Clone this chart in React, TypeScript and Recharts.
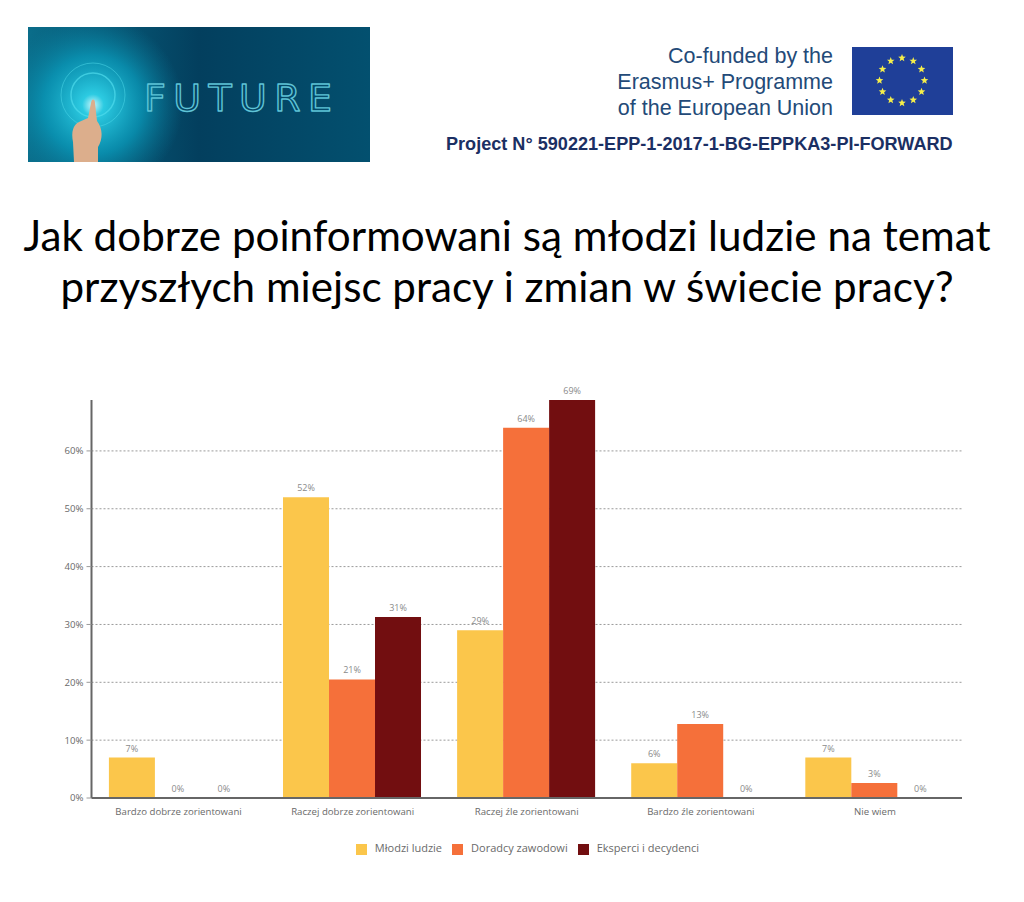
import { BarChart, Bar, XAxis, YAxis, CartesianGrid, Legend, LabelList } from "recharts";

const CATEGORIES = [
  "Bardzo dobrze zorientowani",
  "Raczej dobrze zorientowani",
  "Raczej źle zorientowani",
  "Bardzo źle zorientowani",
  "Nie wiem",
];
const MLODZI = [7, 52, 29, 6, 7];
const DORADCY = [0, 20.5, 64, 12.8, 2.6];
const EKSPERCI = [0, 31.3, 68.8, 0, 0];
const Y_TICKS = [0, 10, 20, 30, 40, 50, 60];

const TITLE_LINES = [
  "Jak dobrze poinformowani są młodzi ludzie na temat",
  "przyszłych miejsc pracy i zmian w świecie pracy?",
];
const COFUNDED_LINES = ["Co-funded by the", "Erasmus+ Programme", "of the European Union"];
const PROJECT_LINE = "Project N° 590221-EPP-1-2017-1-BG-EPPKA3-PI-FORWARD";

const data = CATEGORIES.map((name, i) => ({
  name,
  mlodzi: MLODZI[i],
  doradcy: DORADCY[i],
  eksperci: EKSPERCI[i],
}));

const TEXT_GREY = "#6a6a6a";
const AXIS_GREY = "#666666";
const CHART_FONT = "'Open Sans', sans-serif";
const percent = (v: unknown) => `${Math.round(Number(v))}%`;
const LABEL_STYLE = { fontSize: 9, fill: "#8a8a8a", fontFamily: CHART_FONT };

function FutureLogo() {
  return (
    <svg width={342} height={135} style={{ position: "absolute", left: 28, top: 27 }}>
      <defs>
        <linearGradient id="bg" x1="0" y1="0" x2="1" y2="0">
          <stop offset="0" stopColor="#0a6d8a" />
          <stop offset="0.5" stopColor="#033f5e" />
          <stop offset="1" stopColor="#03506f" />
        </linearGradient>
        <radialGradient id="glow" cx="65" cy="78" r="90" gradientUnits="userSpaceOnUse">
          <stop offset="0" stopColor="#c9f6fb" />
          <stop offset="0.12" stopColor="#2ccbe2" />
          <stop offset="0.55" stopColor="#0a9cbc" stopOpacity="0.75" />
          <stop offset="1" stopColor="#0a7d9c" stopOpacity="0" />
        </radialGradient>
      </defs>
      <rect width={342} height={135} fill="url(#bg)" />
      <rect width={342} height={135} fill="url(#glow)" />
      <circle cx={65} cy={68} r={22} fill="none" stroke="#4fdcec" strokeWidth={1.5} opacity={0.7} />
      <circle cx={65} cy={68} r={32} fill="none" stroke="#4fdcec" strokeWidth={1} opacity={0.5} />
      <path
        d="M46 135 L45 115 C43 105 45 98 51 95 L60 91 L63 76 C64 71 67 72 67 76 L69 94 C75 102 75 112 70 120 L70 135 Z"
        fill="#dcae8c"
      />
      <text
        x={116}
        y={84}
        textLength={188}
        fontSize={38}
        fontFamily="'DejaVu Sans', sans-serif"
        fill="none"
        stroke="#5fc3d6"
        strokeWidth={1.4}
        strokeLinejoin="round"
      >
        FUTURE
      </text>
    </svg>
  );
}

function EuFlag() {
  const stars = Array.from({ length: 12 }, (_, i) => {
    const a = (i * Math.PI) / 6;
    const cx = 50 + 22.5 * Math.sin(a);
    const cy = 33.5 - 22.5 * Math.cos(a);
    const pts = Array.from({ length: 10 }, (_, k) => {
      const r = k % 2 ? 1.7 : 4;
      const t = (k * Math.PI) / 5;
      return `${cx + r * Math.sin(t)},${cy - r * Math.cos(t)}`;
    }).join(" ");
    return <polygon key={i} points={pts} fill="#f5ee4a" />;
  });
  return (
    <svg width={101} height={68} style={{ position: "absolute", left: 852, top: 47 }}>
      <rect width={101} height={68} fill="#1f3f98" />
      {stars}
    </svg>
  );
}

export default function App() {
  return (
    <div style={{ position: "absolute", left: 0, top: 0, width: 1024, height: 902, background: "#fff", overflow: "hidden" }}>
      <FutureLogo />
      <EuFlag />
      {COFUNDED_LINES.map((line, i) => (
        <div
          key={line}
          style={{
            position: "absolute",
            right: 191,
            top: 43 + i * 26,
            fontFamily: "'Liberation Sans', sans-serif",
            fontSize: 21.5,
            lineHeight: "26px",
            color: "#234a78",
            whiteSpace: "nowrap",
          }}
        >
          {line}
        </div>
      ))}
      <div
        style={{
          position: "absolute",
          left: 446,
          top: 134,
          fontFamily: "'Liberation Sans', sans-serif",
          fontWeight: 700,
          fontSize: 18.1,
          lineHeight: "20px",
          color: "#1b2f63",
          whiteSpace: "nowrap",
        }}
      >
        {PROJECT_LINE}
      </div>
      {TITLE_LINES.map((line, i) => (
        <div
          key={line}
          style={{
            position: "absolute",
            left: 0,
            width: 1014,
            textAlign: "center",
            top: 210 + i * 51,
            fontFamily: "Lato, sans-serif",
            fontSize: 42.2,
            lineHeight: "50px",
            color: "#000",
            whiteSpace: "nowrap",
          }}
        >
          {line}
        </div>
      ))}
      <div style={{ position: "absolute", left: 0, top: 360 }}>
        <BarChart
          width={1024}
          height={542}
          data={data}
          barCategoryGap="10%"
          barGap={0}
          margin={{ top: 40, right: 62, bottom: 74, left: 40.5 }}
        >
          <CartesianGrid vertical={false} stroke="#9a9a9a" strokeDasharray="2 2" horizontalValues={Y_TICKS} />
          <XAxis
            dataKey="name"
            height={30}
            interval={0}
            tickLine={false}
            axisLine={{ stroke: AXIS_GREY, strokeWidth: 2 }}
            tick={{ fontSize: 9.65, fill: TEXT_GREY, fontFamily: CHART_FONT }}
            tickMargin={4}
          />
          <YAxis
            width={51}
            domain={[0, 68.8]}
            ticks={Y_TICKS}
            tickFormatter={percent}
            axisLine={{ stroke: AXIS_GREY, strokeWidth: 2 }}
            tickLine={{ stroke: "#9a9a9a" }}
            tickSize={5}
            tickMargin={3}
            tick={{ fontSize: 9.65, fill: TEXT_GREY, fontFamily: CHART_FONT }}
          />
          <Legend
            verticalAlign="middle"
            align="center"
            layout="horizontal"
            iconType="square"
            iconSize={11}
            itemSorter={null}
            wrapperStyle={{ top: 480, left: 0, width: 1065, fontFamily: CHART_FONT, fontSize: 11 }}
            formatter={(value) => <span style={{ color: TEXT_GREY, marginLeft: 4 }}>{value}</span>}
          />
          <Bar dataKey="mlodzi" name="Młodzi ludzie" fill="#fbc64b" minPointSize={0.01} isAnimationActive={false}>
            <LabelList dataKey="mlodzi" position="top" formatter={percent} offset={6} style={LABEL_STYLE} />
          </Bar>
          <Bar dataKey="doradcy" name="Doradcy zawodowi" fill="#f5703a" minPointSize={0.01} isAnimationActive={false}>
            <LabelList dataKey="doradcy" position="top" formatter={percent} offset={6} style={LABEL_STYLE} />
          </Bar>
          <Bar dataKey="eksperci" name="Eksperci i decydenci" fill="#720e10" minPointSize={0.01} isAnimationActive={false}>
            <LabelList dataKey="eksperci" position="top" formatter={percent} offset={6} style={LABEL_STYLE} />
          </Bar>
        </BarChart>
      </div>
    </div>
  );
}
